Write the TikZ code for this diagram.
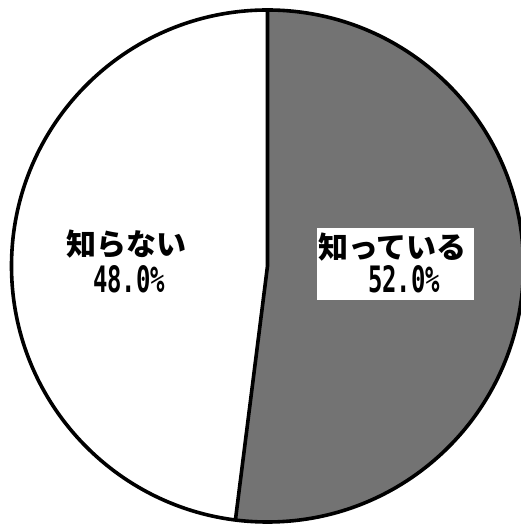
\documentclass[tikz,border=0pt]{standalone}
\usepackage{fontspec}
\usepackage{graphicx}
\usetikzlibrary{calc}
\newfontfamily\jpfont{Noto Sans CJK JP}
\newfontfamily\numfont{DejaVu Sans Mono}
\tikzset{
  jplabel/.style={inner sep=0pt, font=\jpfont\bfseries\fontsize{30}{30}\selectfont},
  numlabel/.style={inner sep=0pt},
  slicefill/.style={fill=black!55},
  edge/.style={line width=3.6pt, draw=black},
}
\newcommand{\numtxt}[2]{\resizebox{#1}{27pt}{\numfont\bfseries #2}}
\begin{document}
\begin{tikzpicture}[x=1pt,y=1pt]
\useasboundingbox (0,0) rectangle (521,527);
\fill[white] (0,0) rectangle (521,527);
\clip (0,0) rectangle (521,527);
\coordinate (C) at (267.5,261);
\coordinate (T) at (267.5,517);
\coordinate (B) at ($(C)+(-97.2:256)$);
\fill[slicefill] (C) -- (T) arc[start angle=90, end angle=-97.2, radius=256] -- cycle;
\draw[edge] (C) circle[radius=256];
\draw[edge] (T) -- (C) -- (B);
% white label box
\node[fill=white, minimum width=157pt, minimum height=72pt, inner sep=0pt] (box) at (395.5,263) {};
\node[jplabel] (know) at (392.5,280) {知っている};
\node[numlabel] (p52) at (404,248) {\numtxt{72pt}{52.0\%}};
\node[jplabel] (notknow) at (126.5,282.5) {知らない};
\node[numlabel] (p48) at (129,248) {\numtxt{72pt}{48.0\%}};
\end{tikzpicture}
\end{document}
